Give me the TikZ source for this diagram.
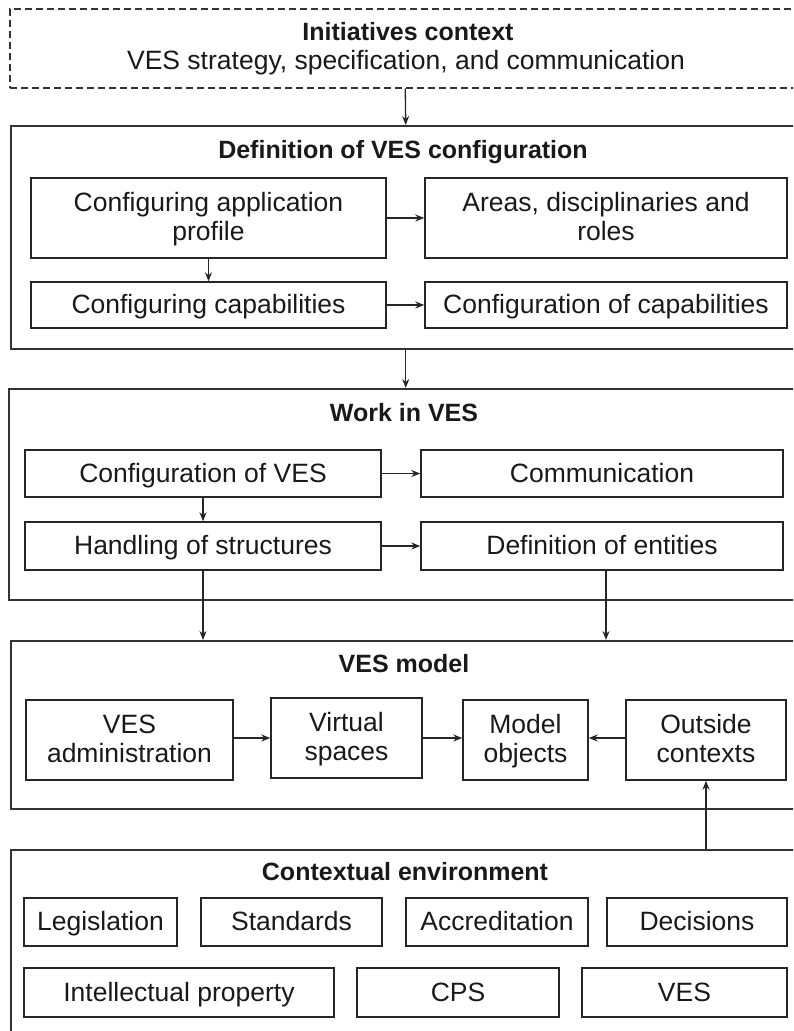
\documentclass[tikz,border=0pt]{standalone}
\usepackage{fontspec}
\setmainfont{Liberation Sans}
\usetikzlibrary{arrows.meta}
% strut that fixes the first line's height in a box
\newcommand\boxtopstrut{\rule{0pt}{20pt}}
\begin{document}
\begin{tikzpicture}[x=1pt,y=-1pt,
  every node/.style={inner sep=0pt, text=black!90},
  frame/.style={draw=black!80, line width=1.5pt, anchor=north west},
  item/.style={draw=black!85, line width=1.4pt, align=center,
               font=\fontsize{26.5}{29}\selectfont,
               execute at begin node=\boxtopstrut, text depth=3pt},
  head/.style={font=\bfseries\fontsize{25}{28}\selectfont},
  sub/.style={font=\fontsize{26.5}{29}\selectfont},
  arr/.style={-{Stealth[length=9pt,width=7pt]}, line width=1.3pt, draw=black!85}]
\useasboundingbox (0,0) rectangle (793,1031);
\clip (0,0) rectangle (793,1031);

% ---- container frames (open to the right / bottom) ----
\node[frame, dash pattern=on 7pt off 4pt, minimum width=791pt, minimum height=79pt] (ini) at (9,8) {};
\node[frame, minimum width=790pt, minimum height=223pt] (def) at (10,125) {};
\node[frame, minimum width=794pt, minimum height=211pt] (work) at (8,388) {};
\node[frame, minimum width=790pt, minimum height=168pt] (model) at (10,640) {};
\node[frame, minimum width=790pt, minimum height=250pt] (env) at (10,849) {};

% ---- frame titles ----
\node[head] (iniT) at (408,32) {Initiatives context};
\node[sub]  (iniS) at (406,63) {VES strategy, specification, and communication};
\node[head] (defT) at (403,152) {Definition of VES configuration};
\node[head] (workT) at (404,413) {Work in VES};
\node[head] (modelT) at (404,664) {VES model};
\node[head] (envT) at (405,872) {Contextual environment};

% ---- definition of VES configuration ----
\node[item, minimum width=355pt, minimum height=80pt] (cap)  at (208.5,218) {Configuring application\\profile};
\node[item, minimum width=362pt, minimum height=80pt] (adr)  at (606,218)   {Areas, disciplinaries and\\roles};
\node[item, minimum width=355pt, minimum height=46pt] (ccap) at (208.5,305) {Configuring capabilities};
\node[item, minimum width=362pt, minimum height=46pt] (coc)  at (606,305)   {Configuration of capabilities};

% ---- work in VES ----
\node[item, minimum width=356pt, minimum height=47pt] (cov) at (203,473.5) {Configuration of VES};
\node[item, minimum width=362pt, minimum height=47pt] (com) at (602,473.5) {Communication};
\node[item, minimum width=356pt, minimum height=48pt] (hos) at (203,546)   {Handling of structures};
\node[item, minimum width=362pt, minimum height=48pt] (doe) at (602,546)   {Definition of entities};

% ---- VES model ----
\node[item, minimum width=207pt, minimum height=80pt] (adm) at (129.5,740) {VES\\administration};
\node[item, minimum width=151pt, minimum height=80pt] (vsp) at (346.5,738) {Virtual\\spaces};
\node[item, minimum width=125pt, minimum height=80pt] (mob) at (525.5,740) {Model\\objects};
\node[item, minimum width=160pt, minimum height=80pt] (ocx) at (706,740)   {Outside\\contexts};

% ---- contextual environment ----
\node[item, minimum width=153pt, minimum height=48pt] (leg) at (100.5,922) {Legislation};
\node[item, minimum width=181pt, minimum height=48pt] (std) at (291.5,922) {Standards};
\node[item, minimum width=182pt, minimum height=48pt] (acc) at (497,922)   {Accreditation};
\node[item, minimum width=180pt, minimum height=48pt] (dec) at (697,922)   {Decisions};
\node[item, minimum width=310pt, minimum height=49pt] (ipr) at (179,992.5) {Intellectual property};
\node[item, minimum width=202pt, minimum height=49pt] (cps) at (458,992.5) {CPS};
\node[item, minimum width=205pt, minimum height=49pt] (ves) at (684.5,992.5) {VES};

% ---- connectors ----
\draw[arr] (ini.south) -- (def.north);
\draw[arr] (cap) -- (adr);
\draw[arr] (cap) -- (ccap);
\draw[arr] (ccap) -- (coc);
\draw[arr] (def.south) -- (work.north);
\draw[arr] (cov) -- (com);
\draw[arr] (cov) -- (hos);
\draw[arr] (hos) -- (doe);
\draw[arr] (hos.south) -- (hos.south |- model.north);
\draw[arr] ([xshift=4pt]doe.south) -- ([xshift=4pt]doe.south |- model.north);
\draw[arr] (adm.east |- vsp.west) -- (vsp.west);
\draw[arr] (vsp.east) -- (vsp.east -| mob.west);
\draw[arr] (ocx.west |- vsp.east) -- (mob.east |- vsp.east);
\draw[arr] (ocx.south |- env.north) -- (ocx.south);
\end{tikzpicture}
\end{document}
